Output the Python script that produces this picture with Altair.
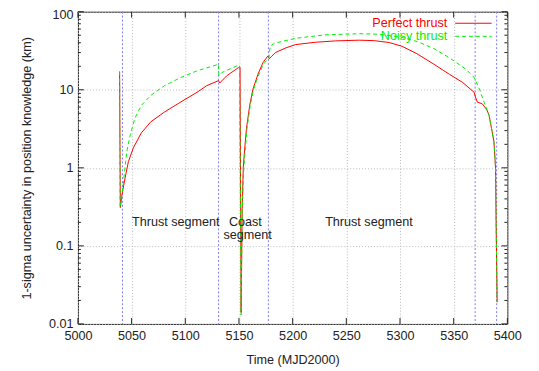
import altair as alt
import pandas as pd

FONT = "Liberation Sans"

# Perfect thrust (red, solid)
red_x = [5038.8, 5039.5, 5041, 5044, 5047, 5051.6, 5059, 5068, 5080.7, 5096, 5111, 5120,
         5131, 5132, 5138.6, 5149.4, 5151, 5152, 5153, 5154, 5155.4, 5157, 5160, 5163,
         5167.7, 5172.3, 5176.8, 5178.3, 5180, 5184, 5193.6, 5202.7, 5221, 5240, 5262,
         5276, 5290, 5302, 5315.7, 5331, 5346, 5358.4, 5369, 5370, 5372, 5376.7, 5381, 5383,
         5387.5, 5389, 5389.5, 5390.5]
red_y = [17.1, 0.31, 0.45, 0.75, 1.2, 1.8, 2.8, 3.9, 5.2, 7.0, 9.3, 11.3,
         13.1, 12.2, 15.1, 19.2, 19.5, 0.014, 0.3, 1.0, 1.8, 3.2, 6.3, 10.2,
         15.8, 22.2, 27, 25, 26.5, 30, 34.4, 37.9, 40.6, 42.3, 43.2,
         42.6, 40.3, 36.0, 29.0, 21.5, 15.8, 12.4, 9.3, 8.3, 6.95, 6.6, 5.5, 4.7,
         2.17, 1.0, 0.21, 0.019]

# Noisy thrust (green, dashed)
green_x = [5038.8, 5039.3, 5040.5, 5042.5, 5045.5, 5048.6, 5053, 5059, 5068, 5080.7, 5096,
           5111, 5131, 5131.2, 5134, 5148, 5150.5, 5152, 5153, 5154.5, 5156, 5157.5,
           5160.5, 5163.5, 5168, 5172.5, 5177, 5178, 5179, 5183, 5203, 5230, 5262, 5280,
           5300, 5316, 5331, 5346, 5361.5, 5369, 5370, 5374, 5378.3, 5383, 5387.5, 5389,
           5389.5, 5390.5]
green_y = [17.1, 0.31, 0.4, 0.68, 1.62, 2.6, 4.3, 6.3, 8.5, 11.3, 14.4,
           17.5, 21.2, 15.1, 16.6, 20.2, 20.5, 0.013, 0.3, 1.0, 1.8, 3.2,
           6.3, 10.0, 15.0, 21.0, 25.0, 26.0, 36.0, 39.5, 45.7, 50.5, 52.3, 51.5,
           47.5, 41.5, 34.0, 25.7, 18.3, 14.4, 13.5, 10.2, 6.95, 4.7, 2.17, 1.0,
           0.21, 0.019]

segment_bounds = [5041.5, 5131, 5177.4, 5370, 5390]

x_ticks = [5000, 5050, 5100, 5150, 5200, 5250, 5300, 5350, 5400]
y_ticks = [0.01, 0.1, 1, 10, 100]
y_minor = [m * d for d in [0.01, 0.1, 1, 10] for m in range(2, 10)]

labels_text = ["Thrust segment", "Coast", "segment", "Thrust segment"]
labels_x = [5050.4, 5140.6, 5135.5, 5230.3]
labels_y = [0.2, 0.2, 0.139, 0.2]

W, H = 436, 317
FS = 12.8
GREEN = "#00ee00"

red_df = pd.DataFrame({"t": red_x, "u": red_y, "i": range(len(red_x))})
green_df = pd.DataFrame({"t": green_x, "u": green_y, "i": range(len(green_x))})

xscale = alt.Scale(domain=[5000, 5400], nice=False, zero=False)
yscale = alt.Scale(type="log", domain=[0.01, 100], nice=False)

xaxis = alt.Axis(values=x_ticks, title="Time (MJD2000)", format="d", grid=True,
                 gridDash=[1, 2], gridColor="#b8b8b8", tickSize=0, domain=False,
                 labelPadding=6, labelFont=FONT, labelFontSize=FS, labelColor="#222",
                 titleFont=FONT, titleFontSize=FS, titleFontWeight="normal",
                 titleColor="#222", titlePadding=11, labelFlush=False)
yaxis = alt.Axis(values=y_ticks, title="1-sigma uncertainty in position knowledge (km)",
                 format="~g", grid=True, gridDash=[1, 2], gridColor="#b8b8b8",
                 tickSize=0, domain=False, labelPadding=5, labelFont=FONT,
                 labelFontSize=FS, labelColor="#222", titleFont=FONT,
                 titleFontSize=FS, titleFontWeight="normal", titleColor="#222",
                 titlePadding=15, labelFlush=False,
                 labelOffset={"expr": "datum.value >= 100 ? 3 : 0"})

base_axes = alt.Chart(pd.DataFrame({"t": [5000], "u": [1]})).mark_point(opacity=0).encode(
    x=alt.X("t:Q", scale=xscale, axis=xaxis),
    y=alt.Y("u:Q", scale=yscale, axis=yaxis),
)

blue = alt.Chart(pd.DataFrame({"t": segment_bounds})).mark_rule(
    color="#7a7aff", strokeDash=[2, 2], strokeWidth=1
).encode(x=alt.X("t:Q", scale=xscale))

red_line = alt.Chart(red_df).mark_line(color="#ff0000", strokeWidth=1).encode(
    x=alt.X("t:Q", scale=xscale), y=alt.Y("u:Q", scale=yscale), order="i:Q")
green_line = alt.Chart(green_df).mark_line(color=GREEN, strokeWidth=1,
                                           strokeDash=[4, 3]).encode(
    x=alt.X("t:Q", scale=xscale), y=alt.Y("u:Q", scale=yscale), order="i:Q")

ann = alt.Chart(pd.DataFrame({"t": labels_x, "u": labels_y, "s": labels_text})).mark_text(
    align="left", baseline="middle", font=FONT, fontSize=FS, color="#222"
).encode(x=alt.X("t:Q", scale=xscale), y=alt.Y("u:Q", scale=yscale), text="s:N")

# inward ticks
xt_df = pd.DataFrame({"t": x_ticks})
xt_bot = alt.Chart(xt_df).mark_rule(color="#222").encode(
    x=alt.X("t:Q", scale=xscale), y=alt.value(H), y2=alt.value(H - 6))
xt_top = alt.Chart(xt_df).mark_rule(color="#222").encode(
    x=alt.X("t:Q", scale=xscale), y=alt.value(0), y2=alt.value(6))
yt_df = pd.DataFrame({"u": y_ticks})
ym_df = pd.DataFrame({"u": y_minor})
yt_l = alt.Chart(yt_df).mark_rule(color="#222").encode(
    y=alt.Y("u:Q", scale=yscale), x=alt.value(0), x2=alt.value(6))
yt_r = alt.Chart(yt_df).mark_rule(color="#222").encode(
    y=alt.Y("u:Q", scale=yscale), x=alt.value(W), x2=alt.value(W - 6))
ym_l = alt.Chart(ym_df).mark_rule(color="#222").encode(
    y=alt.Y("u:Q", scale=yscale), x=alt.value(0), x2=alt.value(3))
ym_r = alt.Chart(ym_df).mark_rule(color="#222").encode(
    y=alt.Y("u:Q", scale=yscale), x=alt.value(W), x2=alt.value(W - 3))

# legend
leg_names = ["Perfect thrust", "Noisy thrust"]
leg_df = pd.DataFrame({"s": leg_names})
leg_text_r = alt.Chart(leg_df.iloc[[0]]).mark_text(
    align="right", baseline="middle", font=FONT, fontSize=FS, color="#ff0000"
).encode(x=alt.value(375), y=alt.value(11.7), text="s:N")
leg_text_g = alt.Chart(leg_df.iloc[[1]]).mark_text(
    align="right", baseline="middle", font=FONT, fontSize=FS, color=GREEN
).encode(x=alt.value(375), y=alt.value(25.0), text="s:N")
leg_line_r = alt.Chart(leg_df.iloc[[0]]).mark_rule(color="#ff0000", strokeWidth=1).encode(
    x=alt.value(383), x2=alt.value(420), y=alt.value(11.7))
leg_line_g = alt.Chart(leg_df.iloc[[1]]).mark_rule(color=GREEN, strokeWidth=1,
                                                    strokeDash=[4, 3]).encode(
    x=alt.value(383), x2=alt.value(420), y=alt.value(25.0))

chart = alt.layer(
    base_axes, blue, red_line, green_line, ann,
    xt_bot, xt_top, yt_l, yt_r, ym_l, ym_r,
    leg_text_r, leg_text_g, leg_line_r, leg_line_g,
).properties(
    width=W, height=H,
    padding={"left": 71, "top": 1, "right": 24, "bottom": 45},
    autosize=alt.AutoSizeParams(type="none"),
    background="white",
).configure_view(stroke="#222", strokeWidth=1)

chart.save("out.html", embed_options={"renderer": "svg", "actions": False})
